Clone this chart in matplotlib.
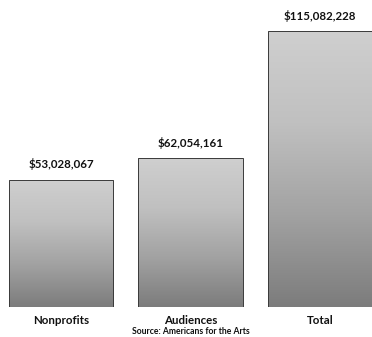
import matplotlib
matplotlib.use("Agg")
import matplotlib.pyplot as plt
import numpy as np
from matplotlib.colors import LinearSegmentedColormap

categories = ["Nonprofits", "Audiences", "Total"]
values = [53028067, 62054161, 115082228]
value_labels = ["$53,028,067", "$62,054,161", "$115,082,228"]
source = "Source: Americans for the Arts"

plt.rcParams['font.family'] = ['Lato', 'DejaVu Sans']

fig = plt.figure(figsize=(3.72, 3.37), dpi=100)
ax = fig.add_axes([0, 30/337, 1, 307/337])
ax.axis('off')

cmap = LinearSegmentedColormap.from_list('g', ['#7c7c7c', '#a2a2a2', '#c0c0c0', '#cfcfcf'])
grad = np.linspace(0, 1, 256).reshape(-1, 1)
width = 0.81
x = np.arange(len(categories))
bars = ax.bar(x, values, width=width, color='none', edgecolor='#3a3a3a', linewidth=0.7, zorder=3)
for b in bars:
    x0, y0 = b.get_x(), b.get_y()
    w, h = b.get_width(), b.get_height()
    im = ax.imshow(grad, cmap=cmap, aspect='auto', origin='lower',
                   extent=[x0, x0 + w, y0, y0 + h], zorder=2)
    im.set_clip_path(b)
ax.set_xlim(-0.471, 2.401)
ax.set_ylim(0, 307/2.395e-6)

for xi, v, lab in zip(x, values, value_labels):
    ax.annotate(lab, (xi, v), xytext=(0, 7), textcoords='offset points',
                ha='center', va='bottom', fontsize=8.3, fontweight='bold', color='#111111')

for xi, c in zip(x, categories):
    fig.text((61 + xi*129.5)/372, 1 - 321/337, c, ha='center', va='center',
             fontsize=8.3, fontweight='bold', color='#111111')
fig.text(191/372, 1 - 331/337, source, ha='center', va='center',
         fontsize=6.2, fontweight='bold', color='#111111')

fig.savefig('out.png', dpi=100)
